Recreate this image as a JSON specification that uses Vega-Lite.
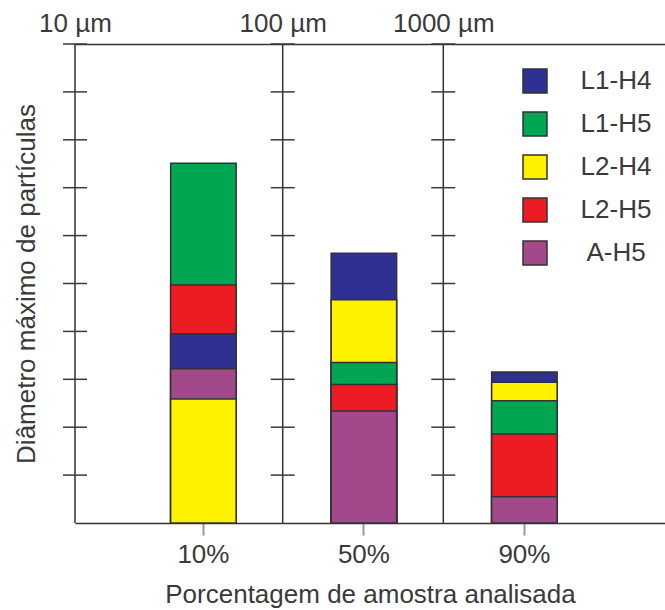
{
  "$schema": "https://vega.github.io/schema/vega-lite/v6.json",
  "width": 590,
  "height": 479,
  "autosize": {"type": "none"},
  "padding": {"left": 75, "top": 44, "right": 0, "bottom": 87},
  "background": "white",
  "view": {"stroke": null},
  "config": {
    "font": "Liberation Sans",
    "axis": {"labelFont": "Liberation Sans", "titleFont": "Liberation Sans", "labelColor": "#3a3a3a", "titleColor": "#3a3a3a", "titleFontWeight": "normal", "grid": false}
  },
  "datasets": {
    "bars": [
      {"pct": "10%", "sample": "L2-H4", "value": 2.59},
      {"pct": "10%", "sample": "A-H5", "value": 3.22},
      {"pct": "10%", "sample": "L1-H4", "value": 3.95},
      {"pct": "10%", "sample": "L2-H5", "value": 4.97},
      {"pct": "10%", "sample": "L1-H5", "value": 7.51},
      {"pct": "50%", "sample": "A-H5", "value": 2.34},
      {"pct": "50%", "sample": "L2-H5", "value": 2.89},
      {"pct": "50%", "sample": "L1-H5", "value": 3.35},
      {"pct": "50%", "sample": "L2-H4", "value": 4.66},
      {"pct": "50%", "sample": "L1-H4", "value": 5.63},
      {"pct": "90%", "sample": "A-H5", "value": 0.55},
      {"pct": "90%", "sample": "L2-H5", "value": 1.86},
      {"pct": "90%", "sample": "L1-H5", "value": 2.55},
      {"pct": "90%", "sample": "L2-H4", "value": 2.94},
      {"pct": "90%", "sample": "L1-H4", "value": 3.15}
    ],
    "sizes": [{"size": 10}, {"size": 100}, {"size": 1000}],
    "ticks": [
      {"size": 10, "level": 1}, {"size": 10, "level": 2}, {"size": 10, "level": 3}, {"size": 10, "level": 4}, {"size": 10, "level": 5},
      {"size": 10, "level": 6}, {"size": 10, "level": 7}, {"size": 10, "level": 8}, {"size": 10, "level": 9}, {"size": 10, "level": 10},
      {"size": 100, "level": 1}, {"size": 100, "level": 2}, {"size": 100, "level": 3}, {"size": 100, "level": 4}, {"size": 100, "level": 5},
      {"size": 100, "level": 6}, {"size": 100, "level": 7}, {"size": 100, "level": 8}, {"size": 100, "level": 9}, {"size": 100, "level": 10},
      {"size": 1000, "level": 1}, {"size": 1000, "level": 2}, {"size": 1000, "level": 3}, {"size": 1000, "level": 4}, {"size": 1000, "level": 5},
      {"size": 1000, "level": 6}, {"size": 1000, "level": 7}, {"size": 1000, "level": 8}, {"size": 1000, "level": 9}, {"size": 1000, "level": 10}
    ]
  },
  "layer": [
    {
      "data": {"name": "bars"},
      "mark": {"type": "bar", "stroke": "#333333", "strokeWidth": 1.5},
      "encoding": {
        "x": {
          "field": "pct", "type": "nominal", "sort": ["10%", "50%", "90%"],
          "scale": {"paddingInner": 0.592, "paddingOuter": 0.634, "align": 0.47},
          "axis": {
            "orient": "bottom", "labelAngle": 0, "labelFontSize": 26, "labelPadding": 6,
            "tickSize": 12, "tickColor": "#999999", "tickWidth": 2,
            "domainColor": "#333333", "domainWidth": 1.5,
            "title": "Porcentagem de amostra analisada", "titleFontSize": 26, "titlePadding": 14
          }
        },
        "y": {
          "field": "value", "type": "quantitative", "stack": null,
          "scale": {"domain": [0, 10], "nice": false},
          "axis": {
            "title": "Diâmetro máximo de partículas", "titleFontSize": 26, "titlePadding": 36,
            "labels": false, "ticks": false, "domain": false
          }
        },
        "color": {
          "field": "sample", "type": "nominal",
          "scale": {
            "domain": ["L1-H4", "L1-H5", "L2-H4", "L2-H5", "A-H5"],
            "range": ["#2E3192", "#00A651", "#FFF200", "#ED1C24", "#A3488A"]
          },
          "legend": {
            "title": null, "orient": "none", "legendX": 447, "legendY": 24, "padding": 0,
            "symbolType": "square", "symbolSize": 576, "symbolStrokeColor": "#333333", "symbolStrokeWidth": 1.5,
            "symbolOpacity": 1, "labelFontSize": 26, "labelFont": "Liberation Sans", "labelColor": "#3a3a3a",
            "labelAlign": "center", "labelOffset": 68, "rowPadding": 13
          }
        },
        "order": {"field": "value", "sort": "descending"}
      }
    },
    {
      "data": {"name": "sizes"},
      "layer": [
        {
          "mark": {"type": "rule", "stroke": "#333333", "strokeWidth": 1.5},
          "encoding": {
            "x": {
              "field": "size", "type": "quantitative",
              "scale": {"type": "linear", "domain": [10, 100, 1000, 10000], "range": [0, 207.7, 368.3, 590], "zero": false, "nice": false},
              "axis": {
                "orient": "top", "values": [10, 100, 1000], "labelExpr": "datum.value + ' µm'",
                "labelFontSize": 26, "labelPadding": 8, "tickSize": 0, "ticks": false,
                "domainColor": "#333333", "domainWidth": 1.5, "title": null, "labelFlush": false, "labelOverlap": false
              }
            }
          }
        },
        {
          "data": {"name": "ticks"},
          "mark": {"type": "tick", "orient": "horizontal", "size": 24, "thickness": 1.5, "color": "#3a3a3a", "opacity": 1},
          "encoding": {
            "x": {"field": "size", "type": "quantitative"},
            "y": {"field": "level", "type": "quantitative"}
          }
        }
      ]
    }
  ],
  "resolve": {"scale": {"x": "independent"}}
}
